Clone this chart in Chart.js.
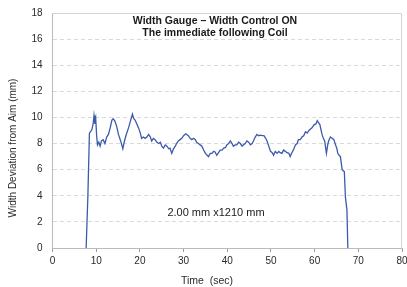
<!DOCTYPE html>
<html>
<head>
<meta charset="utf-8">
<script src="https://cdn.jsdelivr.net/npm/chart.js@4"></script>
<style>
  html, body { margin: 0; padding: 0; background: #fff; }
  #wrap { width: 407px; height: 287px; }
</style>
</head>
<body>
<div id="wrap"><canvas id="chart"></canvas></div>
<script>
// time axis (sec) and width deviation (mm)
var timeSec = [7.7, 8.1, 8.45, 9.0, 9.3, 9.5, 9.7, 9.9, 10.1, 10.3, 10.6, 10.9, 11.2, 11.6, 12.0, 12.4, 12.8, 13.2, 13.6, 13.9,
  14.3, 14.7, 15.1, 15.6, 16.1, 16.4, 16.8, 17.4, 17.9, 18.3, 18.6, 18.9, 19.3, 19.7, 20.1, 20.4, 20.8, 21.2, 21.6, 22.0,
  22.4, 22.7, 23.1, 23.5, 23.9, 24.3, 24.7, 25.0, 25.4, 25.8, 26.2, 26.6, 26.9, 27.3, 27.7, 28.1, 28.4, 28.8, 29.2, 29.6,
  30.0, 30.5, 31.1, 31.5, 31.9, 32.3, 32.7, 33.0, 33.4, 33.8, 34.2, 34.6, 35.0, 35.4, 35.7, 36.1, 36.5, 36.9, 37.2, 37.6,
  38.0, 38.4, 38.8, 39.2, 39.6, 39.9, 40.3, 40.7, 41.1, 41.4, 41.8, 42.2, 42.6, 43.0, 43.4, 43.7, 44.1, 44.5, 44.9, 45.3,
  45.7, 46.0, 46.4, 46.8, 47.2, 47.6, 48.0, 48.4, 48.8, 49.1, 49.5, 49.9, 50.3, 50.6, 51.0, 51.4, 51.8, 52.1, 52.5, 52.9,
  53.3, 53.7, 54.1, 54.4, 54.8, 55.2, 55.6, 56.0, 56.3, 56.7, 57.1, 57.5, 57.9, 58.3, 58.7, 59.0, 59.4, 59.9, 60.3, 60.6,
  60.9, 61.2, 61.5, 61.7, 62.0, 62.3, 62.7, 63.0, 63.2, 63.6, 64.0, 64.4, 64.8, 65.1, 65.3, 65.6, 65.9, 66.3, 66.6, 66.8,
  67.05, 67.4, 67.6];
var widthDev = [0, 4.0, 8.8, 9.05, 9.5, 10.15, 9.5, 9.9, 8.6, 7.9, 8.1, 7.8, 8.2, 8.3, 8.0, 8.5, 8.7, 9.2, 9.8, 9.9,
  9.7, 9.3, 8.7, 8.2, 7.6, 8.1, 8.6, 9.2, 9.8, 10.25, 9.9, 9.8, 9.5, 9.2, 8.8, 8.4, 8.5, 8.4, 8.5, 8.7,
  8.5, 8.2, 8.4, 8.3, 8.1, 8.0, 8.1, 7.8, 7.65, 7.9, 7.8, 7.6, 7.65, 7.25, 7.6, 7.8, 8.0, 8.2, 8.3, 8.4,
  8.6, 8.75, 8.6, 8.4, 8.3, 8.4, 8.3, 8.1, 8.0, 7.9, 7.8, 7.5, 7.25, 7.1, 7.0, 7.25, 7.25, 7.4, 7.35, 7.1,
  7.3, 7.5, 7.5, 7.65, 7.7, 7.9, 8.0, 8.2, 8.0, 7.8, 7.9, 7.9, 8.1, 8.0, 7.8, 7.9, 8.0, 8.2, 8.1, 7.9,
  8.0, 8.2, 8.5, 8.7, 8.6, 8.65, 8.6, 8.6, 8.4, 8.2, 7.8, 7.4, 7.3, 7.1, 7.4, 7.25, 7.4, 7.3, 7.25, 7.5,
  7.4, 7.3, 7.25, 7.0, 7.3, 7.55, 7.9, 8.0, 8.3, 8.3, 8.5, 8.6, 8.9, 8.8, 9.0, 9.1, 9.2, 9.45, 9.5, 9.75,
  9.6, 9.45, 9.0, 8.7, 8.4, 8.2, 7.25, 7.9, 8.2, 8.5, 8.4, 8.3, 7.9, 7.6, 7.25, 7.1, 7.0, 6.0, 5.9, 5.85,
  3.9, 2.9, 0];

var titleLines = ['Width Gauge \u2013 Width Control ON', 'The immediate following Coil'];
var noteText = '2.00 mm x1210 mm';
var xTitle = 'Time  (sec)';
var yTitle = 'Width Deviation from Aim (mm)';

var points = [];
for (var i = 0; i < timeSec.length; i++) {
  points.push({ x: timeSec[i], y: widthDev[i] });
}

var FONT = '"Liberation Sans", Arial, sans-serif';

// frame + texts drawn on the canvas
var extras = {
  id: 'extras',
  beforeDatasetsDraw: function (chart) {
    var a = chart.chartArea, c = chart.ctx;
    c.save();
    c.strokeStyle = '#d4d4d4';
    c.lineWidth = 1;
    c.beginPath();
    c.moveTo(a.left, a.top + 0.5);
    c.lineTo(a.right - 0.5, a.top + 0.5);
    c.lineTo(a.right - 0.5, a.bottom);
    c.stroke();
    c.restore();
  },
  afterDraw: function (chart) {
    var c = chart.ctx;
    c.save();
    c.fillStyle = '#1a1a1a';
    c.textAlign = 'center';
    c.textBaseline = 'middle';
    c.font = 'bold 10.5px ' + FONT;
    c.fillText(titleLines[0], 215, 21);
    c.fillText(titleLines[1], 215, 33);
    c.font = '11px ' + FONT;
    c.fillText(noteText, 216, 213);
    c.fillStyle = '#2a2a2a';
    c.font = '10.5px ' + FONT;
    c.fillText(xTitle, 207, 281);
    c.font = '10px ' + FONT;
    c.translate(13, 148);
    c.rotate(-Math.PI / 2);
    c.fillText(yTitle, 0, 0);
    c.restore();
  }
};

new Chart(document.getElementById('chart'), {
  type: 'line',
  data: {
    datasets: [{
      data: points,
      borderColor: '#3b5ba9',
      borderWidth: 1.3,
      pointRadius: 0,
      tension: 0,
      fill: false
    }]
  },
  options: {
    responsive: true,
    maintainAspectRatio: false,
    animation: false,
    layout: { padding: { top: 13, right: 5, left: 0, bottom: 0 } },
    plugins: { legend: { display: false }, tooltip: { enabled: false } },
    scales: {
      x: {
        type: 'linear',
        min: 0,
        max: 80,
        afterFit: function (s) { s.height = 39; s.paddingLeft = 0; s.paddingRight = 0; },
        ticks: { stepSize: 10, padding: 3, color: '#2a2a2a', font: { family: FONT, size: 10 } },
        grid: { drawOnChartArea: false, tickLength: 4, color: '#999' },
        border: { color: '#bbb' }
      },
      y: {
        min: 0,
        max: 18,
        afterFit: function (s) { s.width = 52.5; s.paddingTop = 0; s.paddingBottom = 0; },
        ticks: { stepSize: 2, padding: 10, color: '#2a2a2a', font: { family: FONT, size: 10 } },
        grid: { drawTicks: false, color: function (ctx) { return ctx.tick.value === 0 || ctx.tick.value === 18 ? 'rgba(0,0,0,0)' : '#d9d9d9'; } },
        border: { color: '#bbb', dash: [4, 3] }
      }
    }
  },
  plugins: [extras]
});
</script>
</body>
</html>
